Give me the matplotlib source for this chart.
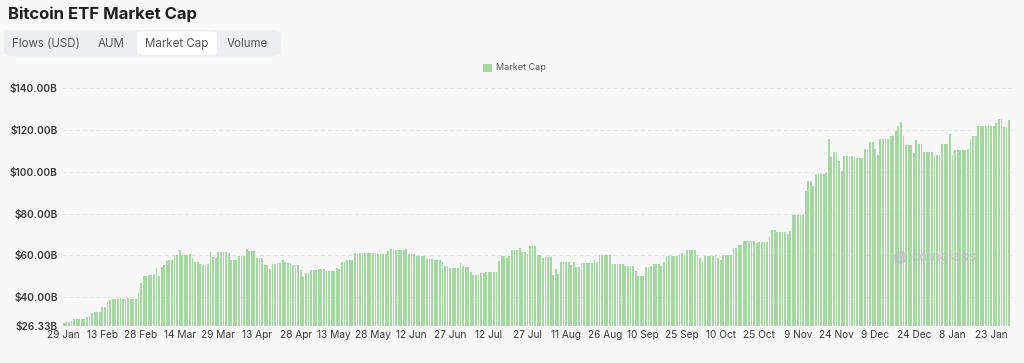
import numpy as np
import pandas as pd
import matplotlib
matplotlib.use("Agg")
import matplotlib.pyplot as plt
import matplotlib.dates as mdates
from matplotlib.patches import FancyBboxPatch, Rectangle

plt.rcParams['font.family'] = ['Inter', 'DejaVu Sans']

# ----------------------------------
# DATA (daily market cap, $B, from 29 Jan 2024)
# ----------------------------------
start_date = "2024-01-29"
market_cap = [
    27.8, 28.0, 28.3, 28.5, 29.8, 29.8, 29.8, 29.8, 29.5, 30.6, 31.2, 32.5, 33.2, 33.2, 33.0,
    35.6, 35.6, 38.0, 38.5, 39.3, 39.3, 39.3, 39.5, 39.3, 39.0, 39.6, 39.2, 39.0, 39.0, 42.0,
    47.0, 50.0, 50.0, 50.5, 50.8, 51.0, 54.0, 50.0, 54.7, 55.5, 57.2, 58.0, 58.0, 60.4, 60.4,
    62.4, 60.4, 60.4, 60.4, 60.5, 58.7, 57.0, 57.0, 56.0, 55.6, 55.6, 55.8, 61.5, 59.3, 59.0,
    61.5, 61.5, 61.8, 61.5, 61.0, 58.0, 58.0, 58.0, 59.5, 59.5, 59.5, 63.3, 61.9, 62.0, 62.0,
    58.8, 58.8, 58.8, 55.6, 55.6, 53.7, 55.9, 55.9, 56.4, 56.4, 58.0, 57.0, 56.4, 56.4, 55.6,
    55.6, 55.6, 53.2, 49.5, 51.6, 51.6, 53.2, 53.2, 53.2, 53.7, 53.7, 53.7, 52.4, 52.4, 52.4,
    52.4, 54.0, 53.5, 56.7, 56.7, 58.0, 58.0, 58.0, 61.2, 60.8, 61.2, 61.2, 61.2, 61.2, 61.2,
    61.2, 61.2, 60.5, 60.5, 60.5, 60.5, 61.9, 63.3, 63.3, 62.8, 62.8, 62.8, 62.8, 63.3, 60.5,
    60.5, 60.5, 59.6, 59.6, 59.6, 59.6, 58.5, 58.5, 58.5, 58.0, 58.0, 58.0, 57.0, 54.8, 54.8,
    54.0, 54.0, 54.0, 54.0, 56.4, 55.0, 54.3, 54.3, 52.0, 50.8, 50.8, 50.8, 51.6, 51.6, 52.0,
    52.1, 52.1, 52.1, 52.1, 57.5, 59.6, 59.6, 59.0, 59.6, 62.4, 62.4, 62.4, 63.6, 61.7, 61.7,
    60.8, 64.4, 64.4, 64.4, 60.4, 60.4, 58.8, 59.3, 59.3, 59.3, 50.8, 53.5, 51.0, 56.9, 56.9,
    56.9, 56.9, 55.5, 56.9, 54.3, 54.3, 56.4, 56.4, 56.4, 56.4, 56.4, 58.0, 56.8, 60.1, 60.1,
    60.1, 60.1, 60.0, 56.1, 56.1, 56.1, 55.8, 55.8, 55.1, 55.1, 55.1, 55.1, 52.4, 50.3, 50.3,
    50.3, 54.3, 54.3, 55.0, 56.1, 56.1, 56.1, 55.0, 57.0, 59.6, 59.6, 59.6, 59.6, 59.6, 60.3,
    61.2, 59.8, 62.4, 62.4, 62.4, 62.4, 60.0, 58.8, 56.9, 59.6, 59.6, 59.6, 59.6, 60.2, 59.0,
    58.0, 60.4, 60.4, 60.4, 60.4, 63.6, 63.6, 65.2, 65.2, 66.8, 66.8, 66.8, 66.8, 66.8, 66.0,
    66.3, 66.3, 66.3, 66.3, 69.2, 72.0, 72.0, 71.3, 71.3, 71.3, 71.3, 70.0, 71.5, 79.1, 79.1,
    79.1, 79.1, 79.1, 90.8, 95.6, 95.6, 93.0, 98.8, 98.8, 98.8, 98.8, 99.5, 115.5, 106.8, 109.6,
    109.6, 105.1, 100.3, 107.6, 107.6, 107.6, 107.6, 107.0, 106.3, 106.3, 106.3, 110.7, 110.7, 114.2, 114.2,
    110.7, 108.0, 115.5, 115.5, 115.5, 115.5, 117.1, 117.1, 119.5, 121.9, 123.8, 116.8, 112.6, 112.6, 112.6,
    108.8, 115.1, 113.1, 113.1, 109.5, 109.5, 109.5, 109.5, 107.9, 107.9, 107.9, 113.1, 113.1, 113.1, 117.9,
    107.9, 110.3, 110.3, 110.3, 110.3, 110.3, 110.8, 115.5, 116.8, 116.8, 121.9, 121.9, 121.9, 121.9, 122.5,
    121.9, 121.9, 123.0, 125.1, 125.1, 121.1, 121.1, 124.8,
]
x_tick_labels = ["29 Jan", "13 Feb", "28 Feb", "14 Mar", "29 Mar", "13 Apr", "28 Apr",
                 "13 May", "28 May", "12 Jun", "27 Jun", "12 Jul", "27 Jul", "11 Aug",
                 "26 Aug", "10 Sep", "25 Sep", "10 Oct", "25 Oct", "9 Nov", "24 Nov",
                 "9 Dec", "24 Dec", "8 Jan", "23 Jan"]
y_ticks = [26.33, 40, 60, 80, 100, 120, 140]
y_tick_labels = ["$26.33B", "$40.00B", "$60.00B", "$80.00B", "$100.00B", "$120.00B", "$140.00B"]
tabs = ["Flows (USD)", "AUM", "Market Cap", "Volume"]

dates = pd.date_range(start_date, periods=len(market_cap), freq="D")

BG = "#f8f8f8"
GREEN = "#a3d9a1"
TEXT = "#3a3a3a"

fig = plt.figure(figsize=(10.24, 3.63), dpi=100)
fig.patch.set_facecolor(BG)

ax = fig.add_axes([0.0605, 0.102, 0.928, 0.656])
ax.set_facecolor(BG)

ax.bar(dates, market_cap, width=0.7, color=GREEN, edgecolor="none")
ax.set_ylim(26.33, 140)
ax.set_xlim(dates[0] - pd.Timedelta(days=0.7), dates[-1] + pd.Timedelta(days=1.2))

# y axis
ax.set_yticks(y_ticks)
ax.set_yticklabels(y_tick_labels, fontsize=7.3, color=TEXT, fontweight="semibold")
for v in y_ticks[1:]:
    ax.axhline(v, color="#e6e6e6", lw=0.7, ls=(0, (4, 3)), zorder=0)

# x axis
ax.set_xticks(dates[::15][:len(x_tick_labels)])
ax.set_xticklabels(x_tick_labels, fontsize=7.3, color=TEXT)
ax.tick_params(axis="both", length=0, pad=3)
for s in ax.spines.values():
    s.set_visible(False)

# watermark
ax.text(0.963, 0.29, "coinglass", transform=ax.transAxes, fontsize=10,
        color="#bdbdbd", alpha=0.6, ha="right", va="center", fontweight="bold")
ax.scatter([0.882], [0.29], transform=ax.transAxes, s=70, color="#bdbdbd",
           alpha=0.55, zorder=5)

# title
fig.text(0.008, 0.962, "Bitcoin ETF Market Cap", fontsize=12, fontweight="bold",
         color="#1f1f1f", va="center", ha="left")

# tab bar
tab_box = FancyBboxPatch((0.004, 0.845), 0.27, 0.072, boxstyle="round,pad=0,rounding_size=0.01",
                         transform=fig.transFigure, facecolor="#eceef1", edgecolor="none")
fig.patches.append(tab_box)
sel_box = FancyBboxPatch((0.134, 0.849), 0.078, 0.064, boxstyle="round,pad=0,rounding_size=0.006",
                         transform=fig.transFigure, facecolor="white", edgecolor="none")
fig.patches.append(sel_box)
tab_x = [0.045, 0.109, 0.173, 0.242]
for tx, name in zip(tab_x, tabs):
    fig.text(tx, 0.879, name, fontsize=8.3, color="#555555", ha="center", va="center")

# legend
fig.patches.append(Rectangle((0.472, 0.803), 0.008, 0.022, transform=fig.transFigure,
                             facecolor=GREEN, edgecolor="none"))
fig.text(0.484, 0.814, "Market Cap", fontsize=6.5, color="#555555", ha="left", va="center")

fig.savefig("out.png", dpi=100, facecolor=BG)
